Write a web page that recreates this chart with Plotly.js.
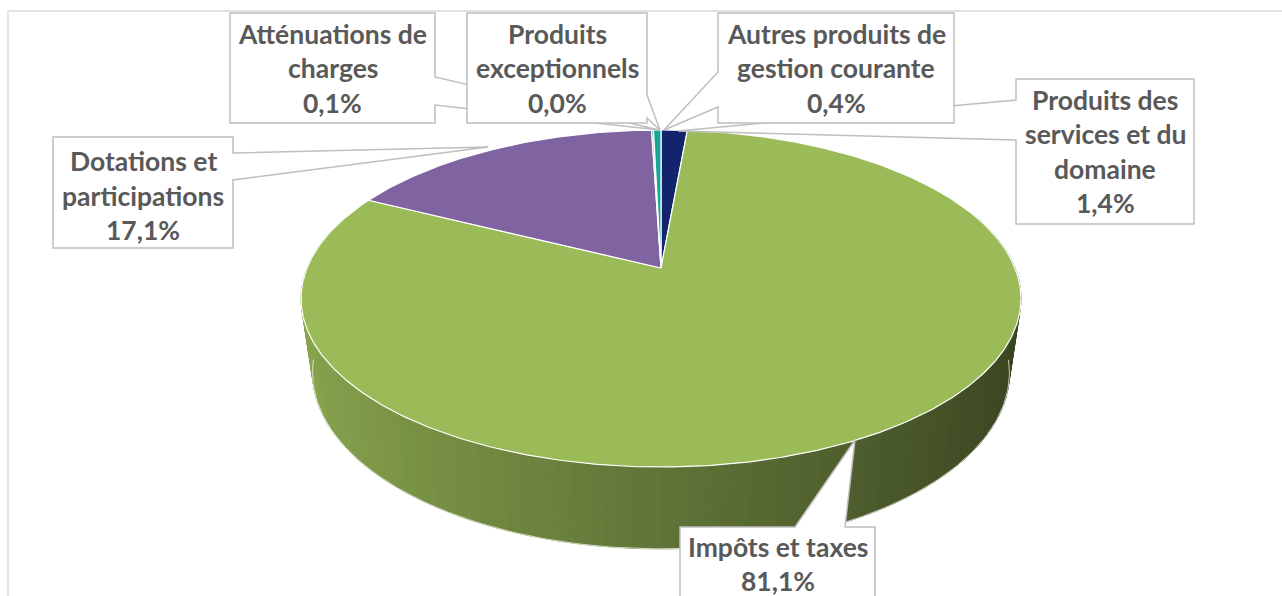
<!DOCTYPE html>
<html><head><meta charset="utf-8">
<script src="https://cdn.plot.ly/plotly-3.0.1.min.js"></script>
<style>html,body{margin:0;padding:0;background:#fff;}#chart{width:1282px;height:596px;}</style>
</head><body><div id="chart"></div>
<script>
// ---- data (clockwise from 12 o'clock) ----
const categories = ['Produits des services et du domaine', 'Impôts et taxes', 'Dotations et participations', 'Atténuations de charges', 'Produits exceptionnels', 'Autres produits de gestion courante'];
const values = [1.4, 81.1, 17.1, 0.1, 0.0, 0.4];
const sliceColors = ['#12246b', '#9bbb59', '#8064a2', '#2fb3a8', '#f79646', '#17a597'];
const labelLines = [
  ['Produits des', 'services et du', 'domaine'],
  ['Impôts et taxes'],
  ['Dotations et', 'participations'],
  ['Atténuations de', 'charges'],
  ['Produits', 'exceptionnels'],
  ['Autres produits de', 'gestion courante']
];

// ---- layout config (pixel space) ----
const W = 1282, H = 596;
const CX = 661, CY = 268, A = 354, B = 163, K = 0.181, M = 0.032, C = 76;
const callouts = [
  {box: [1016, 1194, 79, 224], side: 'left', base: [100, 140], tip: [678, 131], cy: 151.5},
  {box: [680, 875, 527, 640], side: 'top', base: [795, 845], tip: [855, 440], cy: 564},
  {box: [53, 233, 137, 248], side: 'right', base: [153, 180], tip: [488, 147], cy: 195.5},
  {box: [230, 435, 13, 123], side: 'right', base: [77, 105], tip: [659, 130], cy: 68},
  {box: [467, 647, 13, 123], side: 'right', base: [95, 118], tip: [660, 130], cy: 68},
  {box: [718, 954, 13, 123], side: 'left', base: [72, 107], tip: [664, 130], cy: 68}
];
const drawOrder = [3, 0, 4, 5, 2, 1];
const LINE_GAP = 34.5;

function topPt(th) {
  const u = Math.sin(th), v = -Math.cos(th), d = 1 - K * v;
  return [CX + A * u / d, CY + B * v / d];
}
function botPt(th) {
  const u = Math.sin(th), v = -Math.cos(th), d = 1 - K * v + M;
  return [CX + A * u / d, CY + (B * v + C) / d];
}
function hexToRgb(h) { return [parseInt(h.slice(1,3),16), parseInt(h.slice(3,5),16), parseInt(h.slice(5,7),16)]; }
function shade(hex, f) { const c = hexToRgb(hex).map(x => Math.max(0, Math.min(255, Math.round(x * f)))); return 'rgb(' + c.join(',') + ')'; }

const total = values.reduce((s, v) => s + v, 0);
const starts = [], ends = [];
let acc = 0;
values.forEach(v => { starts.push(acc / total * 2 * Math.PI); acc += v; ends.push(acc / total * 2 * Math.PI); });
function sliceAt(th) { for (let i = 0; i < values.length; i++) if (th >= starts[i] && th < ends[i]) return i; return values.length - 1; }

const traces = [];
// side wall strips (front part)
const deg = Math.PI / 180;
for (let a = 70; a < 290; a += 2) {
  const t0 = a * deg, t1 = (a + 2) * deg;
  const idx = sliceAt((t0 + t1) / 2);
  const p0 = topPt(t0), p1 = topPt(t1), q1 = botPt(t1), q0 = botPt(t0);
  const u = Math.sin((t0 + t1) / 2);
  const tt = (1 - u) / 2;
  const col = shade(sliceColors[idx], 0.36 + 0.52 * tt);
  traces.push({x: [p0[0], p1[0], q1[0], q0[0], p0[0]], y: [p0[1], p1[1], q1[1], q0[1], p0[1]],
    type: 'scatter', mode: 'lines', fill: 'toself', fillcolor: col, line: {color: col, width: 1}, hoverinfo: 'skip', showlegend: false});
}
// bottom rim highlight
{
  const xs = [], ys = [];
  for (let a = 96; a <= 264; a += 1) { const p = botPt(a * deg); xs.push(p[0]); ys.push(p[1]); }
  traces.push({x: xs, y: ys, type: 'scatter', mode: 'lines', line: {color: 'rgba(255,255,255,0.7)', width: 1}, hoverinfo: 'skip', showlegend: false});
}
// top face slices
values.forEach((v, i) => {
  if (v <= 0) return;
  const xs = [CX], ys = [CY];
  const n = Math.max(2, Math.ceil((ends[i] - starts[i]) / (0.5 * deg)));
  for (let j = 0; j <= n; j++) { const p = topPt(starts[i] + (ends[i] - starts[i]) * j / n); xs.push(p[0]); ys.push(p[1]); }
  xs.push(CX); ys.push(CY);
  traces.push({x: xs, y: ys, type: 'scatter', mode: 'lines', fill: 'toself', fillcolor: sliceColors[i],
    line: {color: '#ffffff', width: 1.2}, name: categories[i], hoverinfo: 'name', showlegend: false});
});

// callouts
function calloutPath(c) {
  const [x0, x1, y0, y1] = c.box, [a, b] = c.base, [tx, ty] = c.tip;
  if (c.side === 'right') return `M${x0},${y0}L${x1},${y0}L${x1},${a}L${tx},${ty}L${x1},${b}L${x1},${y1}L${x0},${y1}Z`;
  if (c.side === 'left') return `M${x0},${y0}L${x1},${y0}L${x1},${y1}L${x0},${y1}L${x0},${b}L${tx},${ty}L${x0},${a}Z`;
  if (c.side === 'top') return `M${x0},${y0}L${a},${y0}L${tx},${ty}L${b},${y0}L${x1},${y0}L${x1},${y1}L${x0},${y1}Z`;
  return `M${x0},${y0}L${x1},${y0}L${x1},${y1}L${b},${y1}L${tx},${ty}L${a},${y1}L${x0},${y1}Z`;
}
const shapes = [{type: 'rect', xref: 'x', yref: 'y', x0: 8, y0: 11, x1: 1300, y1: 620, line: {color: '#d9d9d9', width: 1.3}, fillcolor: 'rgba(0,0,0,0)', layer: 'below'}];
const annotations = [];
drawOrder.forEach(i => {
  const c = callouts[i];
  shapes.push({type: 'path', xref: 'x', yref: 'y', path: calloutPath(c), fillcolor: '#ffffff', line: {color: '#bfbfbf', width: 1.5}, layer: 'above'});
  const lines = labelLines[i].concat([values[i].toFixed(1).replace('.', ',') + '%']);
  const xc = (c.box[0] + c.box[1]) / 2;
  lines.forEach((t, k) => {
    annotations.push({x: xc, y: c.cy + (k - (lines.length - 1) / 2) * LINE_GAP, xref: 'x', yref: 'y', text: t, showarrow: false,
      xanchor: 'center', yanchor: 'middle', font: {family: 'Lato', size: 26.5, color: '#595959', weight: 700}});
  });
});

const layout = {
  width: W, height: H, margin: {l: 0, r: 0, t: 0, b: 0}, autosize: false,
  paper_bgcolor: '#ffffff', plot_bgcolor: '#ffffff', showlegend: false,
  xaxis: {range: [0, W], visible: false, fixedrange: true},
  yaxis: {range: [H, 0], visible: false, fixedrange: true},
  shapes: shapes, annotations: annotations
};
Plotly.newPlot('chart', traces, layout, {staticPlot: true, displayModeBar: false});
</script></body></html>
